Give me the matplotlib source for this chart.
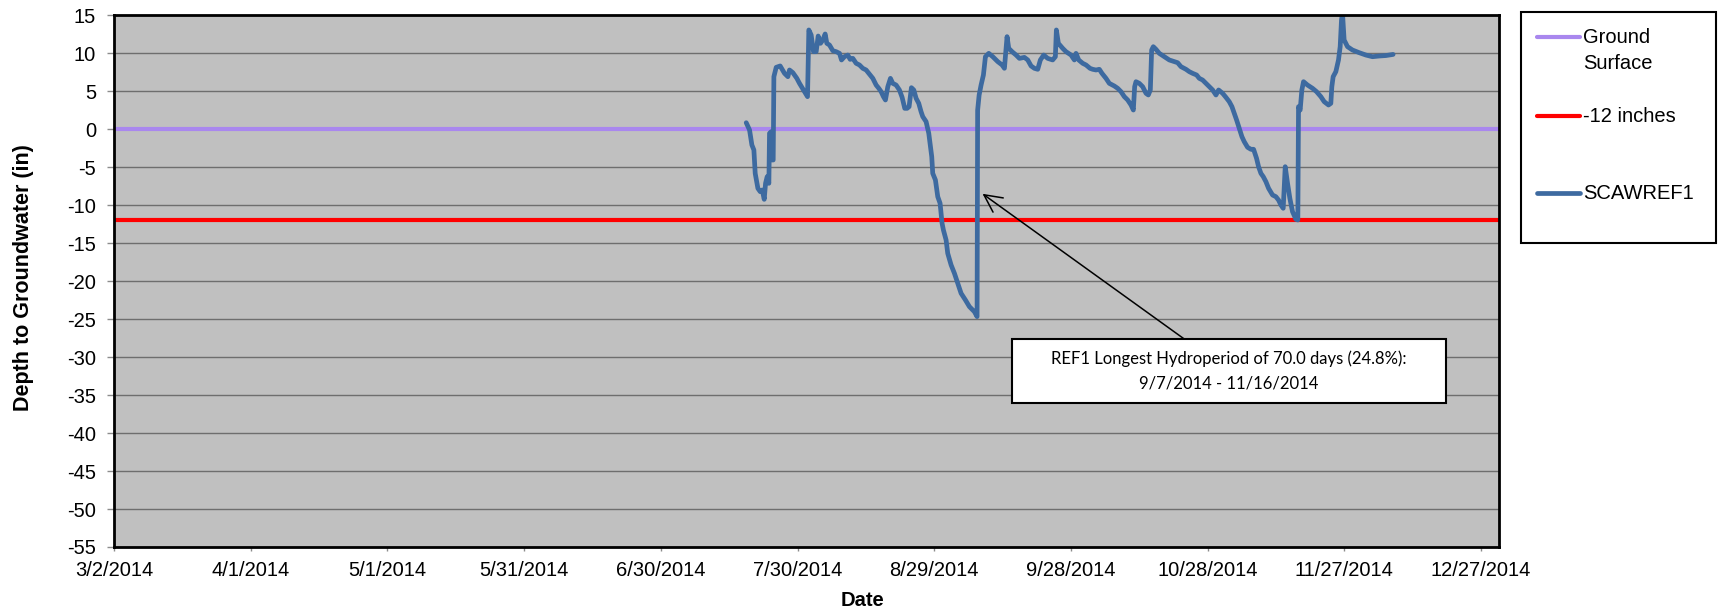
import matplotlib
matplotlib.use('Agg')
import matplotlib.pyplot as plt
import matplotlib.dates as mdates
from matplotlib.patches import Rectangle
from matplotlib.lines import Line2D
from matplotlib.ticker import FuncFormatter
import numpy as np
import pandas as pd

plt.rcParams['font.family'] = ['Liberation Sans', 'DejaVu Sans']
plt.rcParams['axes.unicode_minus'] = False

# ---------------- data ----------------
axis_start = '2014-03-02'
axis_end = '2014-12-31'

# SCAWREF1 depth to groundwater: days after 3/2/2014 and depth (in)
days_after_start = [
    138.74, 139.47, 139.98, 140.42, 140.71, 141.30, 141.81, 142.25, 142.69, 142.98,
    143.34, 143.71, 143.85, 144.22, 144.44, 144.66, 144.81, 145.32, 146.19, 147.14,
    147.88, 148.24, 148.97, 149.85, 150.43, 151.31, 152.19, 152.48, 152.99, 153.50,
    154.09, 154.53, 155.04, 155.55, 156.06, 156.43, 157.01, 157.74, 158.48, 159.21,
    159.65, 160.30, 161.03, 161.55, 162.13, 162.86, 163.59, 164.32, 165.05, 165.93,
    166.52, 167.25, 167.83, 168.34, 168.85, 169.29, 169.81, 170.39, 170.90, 171.63,
    172.36, 172.95, 173.53, 174.04, 174.48, 174.99, 175.51, 176.02, 176.60, 177.11,
    177.48, 178.21, 178.80, 179.09, 179.45, 179.67, 180.26, 180.77, 181.28, 181.72,
    182.01, 182.60, 182.96, 183.70, 184.43, 185.16, 185.89, 186.84, 187.72, 188.81,
    189.40, 189.52, 189.85, 190.28, 190.79, 191.23, 191.96, 192.84, 193.94, 194.89,
    195.40, 195.98, 196.35, 197.08, 197.96, 198.69, 199.78, 200.52, 201.25, 201.98,
    202.71, 203.29, 204.02, 204.90, 205.99, 206.58, 206.80, 207.24, 208.19, 208.92,
    210.02, 210.75, 211.11, 211.70, 212.58, 213.31, 214.18, 214.77, 215.50, 216.23,
    216.81, 217.69, 218.42, 219.52, 220.25, 220.98, 221.71, 222.45, 223.18, 223.69,
    223.98, 224.27, 225.00, 225.74, 226.47, 226.98, 227.42, 227.71, 228.07, 228.66,
    229.39, 230.49, 231.58, 232.68, 233.41, 234.14, 235.24, 235.97, 236.70, 237.58,
    238.16, 238.89, 239.62, 240.36, 241.09, 241.82, 242.40, 243.28, 244.01, 244.74,
    245.33, 245.84, 246.35, 246.93, 247.52, 248.03, 248.76, 249.49, 250.08, 250.73,
    251.17, 251.69, 252.20, 252.78, 253.37, 254.24, 254.97, 255.55, 256.07, 256.58,
    257.02, 257.53, 258.04, 258.62, 259.36, 259.79, 259.94, 260.30, 260.67, 261.04,
    261.91, 263.01, 263.89, 264.84, 265.57, 266.52, 267.03, 267.25, 267.54, 268.13,
    268.71, 269.08, 269.37, 269.59, 269.95, 270.69, 271.78, 273.25, 274.71, 276.17,
    277.63, 279.10, 280.70,
]
depth_in = [
    0.86, -0.10, -2.07, -2.73, -5.81, -7.78, -8.22, -8.00, -9.23, -7.12,
    -6.24, -7.12, -0.54, -0.32, -4.05, -4.05, 6.92, 8.15, 8.33, 7.36,
    6.92, 7.80, 7.45, 6.70, 6.04, 5.17, 4.29, 13.07, 12.41, 10.21,
    10.21, 12.27, 11.31, 11.75, 12.54, 11.31, 11.09, 10.34, 10.21, 9.99,
    9.12, 9.55, 9.77, 9.20, 9.33, 8.68, 8.46, 8.02, 7.80, 7.14,
    6.70, 5.82, 5.39, 4.95, 4.29, 3.85, 5.60, 6.70, 6.04, 5.82,
    5.17, 4.20, 2.75, 2.75, 2.97, 5.47, 5.17, 4.07, 3.41, 2.31,
    1.66, 1.00, -0.54, -1.86, -3.61, -5.81, -6.68, -8.88, -9.75, -12.39,
    -13.26, -14.58, -16.34, -17.87, -18.97, -20.29, -21.60, -22.48, -23.36, -24.02,
    -24.67, 2.50, 4.50, 5.82, 7.14, 9.55, 9.99, 9.55, 8.90, 8.46,
    8.02, 12.19, 10.65, 10.21, 9.77, 9.33, 9.46, 9.12, 8.33, 8.02,
    7.89, 9.12, 9.77, 9.33, 9.12, 9.55, 13.07, 11.31, 10.65, 10.21,
    9.77, 9.12, 9.99, 9.12, 8.68, 8.46, 8.02, 7.89, 7.80, 7.89,
    7.36, 6.70, 6.04, 5.69, 5.39, 4.95, 4.29, 3.85, 3.19, 2.53,
    5.60, 6.26, 6.04, 5.60, 4.73, 4.51, 5.17, 10.43, 10.87, 10.52,
    9.99, 9.55, 9.12, 8.90, 8.76, 8.24, 7.89, 7.58, 7.36, 7.14,
    6.70, 6.48, 6.04, 5.60, 5.17, 4.51, 5.17, 4.73, 4.20, 3.63,
    2.97, 2.09, 1.22, 0.12, -0.98, -1.64, -2.38, -2.64, -2.64, -3.83,
    -4.93, -5.81, -6.24, -6.90, -7.78, -8.66, -8.88, -9.32, -9.97, -10.41,
    -4.93, -7.12, -9.10, -10.85, -11.86, -11.95, 2.97, 2.53, 5.17, 6.26,
    5.82, 5.39, 4.95, 4.29, 3.63, 3.19, 3.41, 5.60, 6.92, 7.58,
    9.12, 10.87, 14.38, 15.30, 11.75, 10.87, 10.43, 10.08, 9.77, 9.55,
    9.64, 9.70, 9.85,
]

reference_dates = [axis_start, axis_end]
ground_surface = [0, 0]
minus_12_inches = [-12, -12]

series_labels = ['Ground\nSurface', '-12 inches', 'SCAWREF1']

annotation_text = 'REF1 Longest Hydroperiod of 70.0 days (24.8%):\n9/7/2014 - 11/16/2014'
arrow_tip_day = 190.6      # days after 3/2/2014
arrow_tip_depth = -8.5

y_min, y_max, y_step = -55, 15, 5
x_tick_step_days = 30

# ---------------- figure ----------------
W, H = 1718, 613
fig = plt.figure(figsize=(W / 100, H / 100), dpi=100)
fig.patch.set_facecolor('white')

ax_left, ax_right, ax_top, ax_bottom = 114, 1499.3, 15.3, 547
ax = fig.add_axes([ax_left / W, (H - ax_bottom) / H,
                   (ax_right - ax_left) / W, (ax_bottom - ax_top) / H])
ax.set_facecolor('#C0C0C0')

start = pd.Timestamp(axis_start)
series_dates = start + pd.to_timedelta(days_after_start, unit='D')
ref_dates = pd.to_datetime(reference_dates)

l_ground, = ax.plot(ref_dates, ground_surface, color='#A987EE', lw=3.0,
                    solid_capstyle='butt', zorder=3)
l_red, = ax.plot(ref_dates, minus_12_inches, color='#FF0000', lw=3.0,
                 solid_capstyle='butt', zorder=3)
l_series, = ax.plot(series_dates, depth_in, color='#3D6AA0', lw=3.4,
                    solid_joinstyle='round', solid_capstyle='round', zorder=4)

ax.set_xlim(pd.Timestamp(axis_start), pd.Timestamp(axis_end))
ax.set_ylim(y_min, y_max)
ax.set_yticks(np.arange(y_min, y_max + 1, y_step))
ax.set_xticks(pd.date_range(axis_start, axis_end, freq=f'{x_tick_step_days}D'))


def date_fmt(x, pos):
    d = mdates.num2date(x)
    return f'{d.month}/{d.day}/{d.year}'


ax.xaxis.set_major_formatter(FuncFormatter(date_fmt))

ax.yaxis.grid(True, color='#6E6E6E', lw=1.0)
ax.xaxis.grid(False)
ax.set_axisbelow(True)

for sp in ax.spines.values():
    sp.set_color('black')
    sp.set_linewidth(2.0)
    sp.set_zorder(5)

ax.tick_params(axis='y', length=5, width=1, color='#8C8C8C', pad=8,
               labelsize=14.5, labelcolor='black')
ax.tick_params(axis='x', length=3, width=1, color='#8C8C8C', pad=7,
               labelsize=14.5, labelcolor='black')

# axis titles
fig.text(862 / W, 1 - 600 / H, 'Date', ha='center', va='center',
         fontsize=14.5, fontweight='bold')
fig.text(23.5 / W, 1 - 278 / H, 'Depth to Groundwater (in)', rotation=90,
         ha='center', va='center', fontsize=15.5, fontweight='bold')

# annotation box with arrow
bx0 = (1011.7 - ax_left) / (ax_right - ax_left)
bx1 = (1445.7 - ax_left) / (ax_right - ax_left)
by1 = (ax_bottom - 339.3) / (ax_bottom - ax_top)
by0 = (ax_bottom - 402.7) / (ax_bottom - ax_top)
box = Rectangle((bx0, by0), bx1 - bx0, by1 - by0, transform=ax.transAxes,
                facecolor='white', edgecolor='black', lw=1.5, zorder=6)
ax.add_patch(box)
tip_date = start + pd.Timedelta(days=arrow_tip_day)
ax.annotate(annotation_text, xy=(mdates.date2num(tip_date), arrow_tip_depth),
            xycoords='data', xytext=((bx0 + bx1) / 2, (by0 + by1) / 2),
            textcoords='axes fraction', ha='center', va='center',
            fontsize=12, family=['Lato', 'DejaVu Sans'], linespacing=1.6,
            zorder=7,
            arrowprops=dict(arrowstyle='->,head_length=0.7,head_width=0.35',
                            patchA=box, shrinkA=0, shrinkB=0, lw=1.1,
                            color='black', mutation_scale=18))

# legend (drawn manually to match layout)
leg_x0, leg_x1, leg_y0, leg_y1 = 1521, 1716, 12, 243
fig.add_artist(Rectangle((leg_x0 / W, 1 - leg_y1 / H), (leg_x1 - leg_x0) / W,
                         (leg_y1 - leg_y0) / H, transform=fig.transFigure,
                         facecolor='white', edgecolor='black', lw=1.5))
entry_line_y = [37.3, 116, 192.7]
entry_text_y = [50.4, 116.5, 193.2]
for line, label, ly, ty in zip([l_ground, l_red, l_series], series_labels,
                               entry_line_y, entry_text_y):
    fig.add_artist(Line2D([1537 / W, 1580 / W], [1 - ly / H, 1 - ly / H],
                          transform=fig.transFigure, color=line.get_color(),
                          lw=line.get_linewidth(), solid_capstyle='round'))
    fig.text(1583 / W, 1 - ty / H, label, ha='left', va='center',
             fontsize=14.5, linespacing=1.45)

fig.savefig('out.png', dpi=100, facecolor='white')
